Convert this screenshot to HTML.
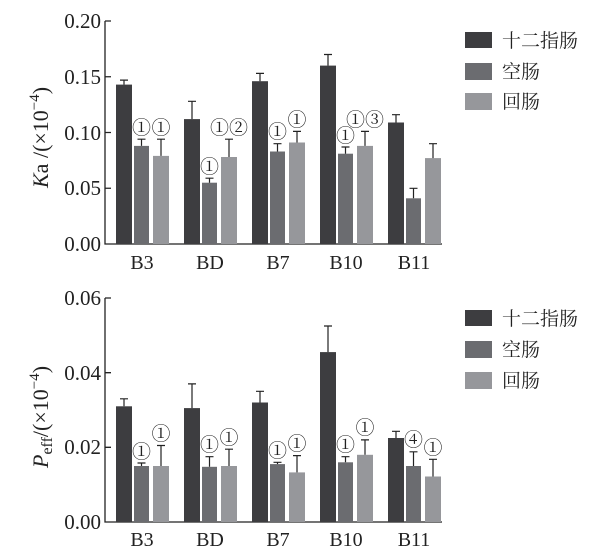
<!DOCTYPE html><html><head><meta charset="utf-8"><style>body{margin:0;background:#fff}svg{display:block}text{font-family:"Liberation Serif","Times New Roman","Noto Serif CJK SC",serif;fill:#222}</style></head><body>
<svg width="601" height="548" viewBox="0 0 601 548" xmlns="http://www.w3.org/2000/svg">
<g stroke="#222" stroke-width="1.3" fill="none">
<path d="M105 21V244H442M105 21H111M105 76.75H111M105 132.5H111M105 188.25H111M105 244H111"/>
<path d="M142 244v-6M210 244v-6M278 244v-6M346 244v-6M414 244v-6"/>
<path d="M105 298V522H442M105 298H111M105 372.7H111M105 447.3H111M105 522H111"/>
<path d="M142 522v-6M210 522v-6M278 522v-6M346 522v-6M414 522v-6"/>
</g>
<g font-size="21" text-anchor="end">
<text x="101" y="28">0.20</text><text x="101" y="84">0.15</text><text x="101" y="140">0.10</text><text x="101" y="195">0.05</text><text x="101" y="251">0.00</text>
<text x="101" y="305">0.06</text><text x="101" y="380">0.04</text><text x="101" y="454">0.02</text><text x="101" y="529">0.00</text>
</g>
<g font-size="20" text-anchor="middle">
<text x="142" y="269">B3</text><text x="210" y="269">BD</text><text x="278" y="269">B7</text><text x="346" y="269">B10</text><text x="414" y="269">B11</text>
<text x="142" y="546">B3</text><text x="210" y="546">BD</text><text x="278" y="546">B7</text><text x="346" y="546">B10</text><text x="414" y="546">B11</text>
</g>
<text transform="translate(48,188) rotate(-90)" font-size="22"><tspan font-style="italic">K</tspan><tspan>a</tspan> /(×10<tspan dy="-9" font-size="15">−4</tspan><tspan dy="9">)</tspan></text>
<text transform="translate(48,468) rotate(-90)" font-size="22"><tspan font-style="italic">P</tspan><tspan font-size="16" dy="4">eff</tspan><tspan dy="-4">/(×10</tspan><tspan dy="-9" font-size="15">−4</tspan><tspan dy="9">)</tspan></text>
<g>
<rect x="116" y="84.6" width="16" height="159.4" fill="#3d3d40"/><rect x="134" y="145.9" width="15" height="98.1" fill="#6b6c70"/><rect x="153" y="155.9" width="16" height="88.1" fill="#96979b"/>
<rect x="184" y="119.1" width="16" height="124.9" fill="#3d3d40"/><rect x="202" y="182.7" width="15" height="61.3" fill="#6b6c70"/><rect x="221" y="157" width="16" height="87" fill="#96979b"/>
<rect x="252" y="81.2" width="16" height="162.8" fill="#3d3d40"/><rect x="270" y="151.5" width="15" height="92.5" fill="#6b6c70"/><rect x="289" y="142.5" width="16" height="101.5" fill="#96979b"/>
<rect x="320" y="65.6" width="16" height="178.4" fill="#3d3d40"/><rect x="338" y="153.7" width="15" height="90.3" fill="#6b6c70"/><rect x="357" y="145.9" width="16" height="98.1" fill="#96979b"/>
<rect x="388" y="122.5" width="16" height="121.5" fill="#3d3d40"/><rect x="406" y="198.3" width="15" height="45.7" fill="#6b6c70"/><rect x="425" y="158.1" width="16" height="85.9" fill="#96979b"/>
</g>
<g stroke="#222" stroke-width="1.2" fill="none">
<path d="M124 84.6V80.1M120 80.1h8M141.5 145.9V139.2M137.5 139.2h8M161 155.9V139.2M157 139.2h8"/>
<path d="M192 119.1V101.3M188 101.3h8M209.5 182.7V178.2M205.5 178.2h8M229 157V139.2M225 139.2h8"/>
<path d="M260 81.2V73.4M256 73.4h8M277.5 151.5V143.7M273.5 143.7h8M297 142.5V131.4M293 131.4h8"/>
<path d="M328 65.6V54.5M324 54.5h8M345.5 153.7V147M341.5 147h8M365 145.9V131.4M361 131.4h8"/>
<path d="M396 122.5V114.7M392 114.7h8M413.5 198.3V188.3M409.5 188.3h8M433 158.1V143.7M429 143.7h8"/>
</g>
<g>
<rect x="116" y="406.3" width="16" height="115.7" fill="#3d3d40"/><rect x="134" y="466" width="15" height="56" fill="#6b6c70"/><rect x="153" y="466" width="16" height="56" fill="#96979b"/>
<rect x="184" y="408.1" width="16" height="113.9" fill="#3d3d40"/><rect x="202" y="466.8" width="15" height="55.2" fill="#6b6c70"/><rect x="221" y="466" width="16" height="56" fill="#96979b"/>
<rect x="252" y="402.5" width="16" height="119.5" fill="#3d3d40"/><rect x="270" y="464.1" width="15" height="57.9" fill="#6b6c70"/><rect x="289" y="472.4" width="16" height="49.6" fill="#96979b"/>
<rect x="320" y="352.1" width="16" height="169.9" fill="#3d3d40"/><rect x="338" y="462.3" width="15" height="59.7" fill="#6b6c70"/><rect x="357" y="454.8" width="16" height="67.2" fill="#96979b"/>
<rect x="388" y="438" width="16" height="84" fill="#3d3d40"/><rect x="406" y="466" width="15" height="56" fill="#6b6c70"/><rect x="425" y="476.5" width="16" height="45.5" fill="#96979b"/>
</g>
<g stroke="#222" stroke-width="1.2" fill="none">
<path d="M124 406.3V398.8M120 398.8h8M141.5 466V463M137.5 463h8M161 466V445.5M157 445.5h8"/>
<path d="M192 408.1V383.9M188 383.9h8M209.5 466.8V456.7M205.5 456.7h8M229 466V449.2M225 449.2h8"/>
<path d="M260 402.5V391.3M256 391.3h8M277.5 464.1V462.3M273.5 462.3h8M297 472.4V455.6M293 455.6h8"/>
<path d="M328 352.1V326M324 326h8M345.5 462.3V456.7M341.5 456.7h8M365 454.8V439.9M361 439.9h8"/>
<path d="M396 438V431.3M392 431.3h8M413.5 466V451.8M409.5 451.8h8M433 476.5V459.3M429 459.3h8"/>
</g>
<g font-size="19" text-anchor="middle">
<text x="141.5" y="134">①</text><text x="161" y="134">①</text>
<text x="209.5" y="173">①</text><text x="229" y="134">①②</text>
<text x="277.5" y="138">①</text><text x="297" y="126">①</text>
<text x="345.5" y="142">①</text><text x="365" y="126">①③</text>
<text x="141.5" y="458">①</text><text x="161" y="440">①</text>
<text x="209.5" y="451">①</text><text x="229" y="444">①</text>
<text x="277.5" y="457">①</text><text x="297" y="450">①</text>
<text x="345.5" y="451">①</text><text x="365" y="434">①</text>
<text x="413.5" y="446">④</text><text x="433" y="454">①</text>
</g>
<g font-size="19">
<rect x="465" y="32" width="27" height="16" fill="#3d3d40"/><text x="502" y="47">十二指肠</text>
<rect x="465" y="63" width="27" height="17" fill="#6b6c70"/><text x="502" y="78">空肠</text>
<rect x="465" y="93" width="27" height="17" fill="#96979b"/><text x="502" y="108">回肠</text>
<rect x="465" y="310" width="27" height="16" fill="#3d3d40"/><text x="502" y="325">十二指肠</text>
<rect x="465" y="341" width="27" height="17" fill="#6b6c70"/><text x="502" y="356">空肠</text>
<rect x="465" y="372" width="27" height="17" fill="#96979b"/><text x="502" y="387">回肠</text>
</g>
</svg></body></html>
